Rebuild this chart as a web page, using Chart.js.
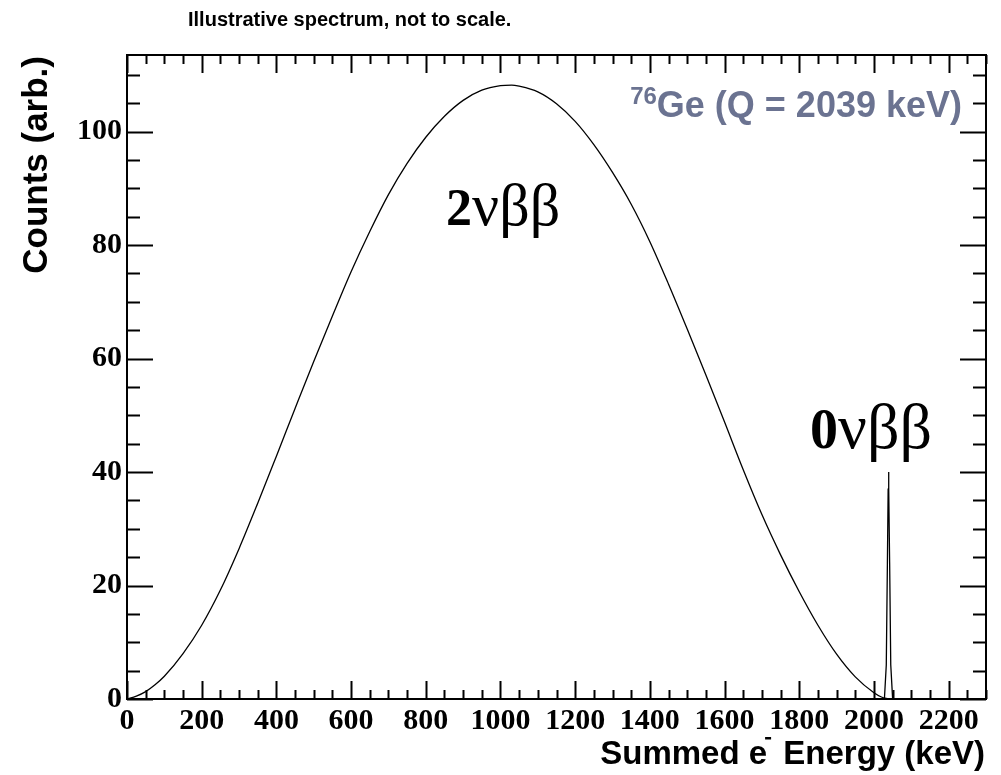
<!DOCTYPE html>
<html>
<head>
<meta charset="utf-8">
<script src="https://cdn.jsdelivr.net/npm/chart.js@4.4.1/dist/chart.umd.min.js"></script>
<style>
  html, body { margin: 0; padding: 0; background: #fff; }
  #wrap { width: 1001px; height: 775px; }
</style>
</head>
<body>
<div id="wrap"><canvas id="spectrum"></canvas></div>
<script>
// ===== DATA =====
const twoNuEnergy = [0, 25, 50, 75, 100, 150, 200, 250, 300, 350, 400, 450, 500, 550, 600, 650, 700, 750, 800, 850, 900, 950, 1000, 1030, 1050, 1100, 1150, 1200, 1250, 1300, 1350, 1400, 1450, 1500, 1550, 1600, 1650, 1700, 1750, 1800, 1850, 1900, 1950, 2000, 2020, 2039];
const twoNuCounts = [0, 0.5, 1.3, 2.5, 4.0, 8.0, 13.0, 19.2, 26.5, 34.5, 42.8, 51.2, 59.5, 67.5, 75.3, 82.4, 88.9, 94.4, 99.0, 102.7, 105.5, 107.3, 108.1, 108.2, 108.0, 107.0, 104.9, 101.8, 97.7, 92.8, 87.2, 80.6, 73.1, 65.2, 57.1, 48.8, 40.4, 32.5, 25.4, 18.9, 13.0, 7.9, 3.9, 1.1, 0.35, 0];

const zeroNuEnergy = [2028, 2033, 2036, 2038, 2039, 2040, 2042, 2045, 2050];
const zeroNuCounts = [0, 6, 24, 37, 40, 37, 24, 6, 0];

const xTickLabels = [0, 200, 400, 600, 800, 1000, 1200, 1400, 1600, 1800, 2000, 2200];
const yTickLabels = [0, 20, 40, 60, 80, 100];

const X_MAX = 2300;
const Y_MAX = 113.5;

const SANS = '"Liberation Sans", Arial, Helvetica, sans-serif';
const SERIF = '"Liberation Serif", "Times New Roman", Times, serif';

// ===== ROOT-style frame, inward ticks and text =====
const rootFramePlugin = {
  id: 'rootFrame',
  afterDraw(chart) {
    const ctx = chart.ctx;
    const { left, right, top, bottom } = chart.chartArea;
    const xs = chart.scales.x;
    const ys = chart.scales.y;

    ctx.save();
    ctx.strokeStyle = '#000';
    ctx.lineWidth = 2;
    ctx.strokeRect(left, top, right - left, bottom - top);

    ctx.beginPath();
    // x ticks, every 50 keV, major every 200
    for (let v = 0; v <= X_MAX; v += 50) {
      const px = Math.round(xs.getPixelForValue(v)) + 0.5;
      const len = v % 200 === 0 ? 18 : 9;
      ctx.moveTo(px, bottom); ctx.lineTo(px, bottom - len);
      ctx.moveTo(px, top); ctx.lineTo(px, top + len);
    }
    // y ticks, every 5, major every 20
    for (let v = 0; v <= Y_MAX; v += 5) {
      const py = Math.round(ys.getPixelForValue(v)) + 0.5;
      const len = v % 20 === 0 ? 26 : 13;
      ctx.moveTo(left, py); ctx.lineTo(left + len, py);
      ctx.moveTo(right, py); ctx.lineTo(right - len, py);
    }
    ctx.stroke();

    ctx.fillStyle = '#000';
    ctx.textBaseline = 'alphabetic';

    // caption above the frame
    ctx.font = 'bold 20px ' + SANS;
    ctx.textAlign = 'left';
    ctx.fillText('Illustrative spectrum, not to scale.', 188, 26);

    // isotope label, right aligned
    ctx.fillStyle = '#6b7391';
    ctx.font = 'bold 36px ' + SANS;
    ctx.textAlign = 'right';
    const main = 'Ge (Q = 2039 keV)';
    ctx.fillText(main, 962, 117);
    const mainW = ctx.measureText(main).width;
    ctx.font = 'bold 24px ' + SANS;
    ctx.fillText('76', 962 - mainW, 104);

    // peak labels
    ctx.fillStyle = '#000';
    drawNuLabel(ctx, '2', 446, 225, 52, 60);
    drawNuLabel(ctx, '0', 810, 448, 56, 64);

    // y axis title
    ctx.save();
    ctx.translate(37, 56);
    ctx.rotate(-Math.PI / 2);
    ctx.font = 'bold 35px ' + SANS;
    ctx.textAlign = 'right';
    ctx.textBaseline = 'middle';
    ctx.fillText('Counts (arb.)', 0, 0);
    ctx.restore();

    // x axis title: "Summed e⁻ Energy (keV)"
    ctx.font = 'bold 33px ' + SANS;
    ctx.textAlign = 'left';
    const tail = ' Energy (keV)';
    const head = 'Summed e';
    const tailW = ctx.measureText(tail).width;
    const headW = ctx.measureText(head).width;
    const supW = 7;
    const xEnd = 985;
    const baseY = 764;
    ctx.fillText(tail, xEnd - tailW, baseY);
    ctx.fillText(head, xEnd - tailW - supW - headW, baseY);
    ctx.fillRect(xEnd - tailW - supW - 2, baseY - 27, 6, 2.5);

    ctx.restore();
  }
};

function drawNuLabel(ctx, digit, x, y, digitSize, greekSize) {
  ctx.textAlign = 'left';
  ctx.font = 'bold ' + digitSize + 'px ' + SERIF;
  ctx.fillText(digit, x, y);
  const w = ctx.measureText(digit).width;
  ctx.font = greekSize + 'px ' + SERIF;
  ctx.fillText('νββ', x + w, y);
}

function toPoints(xs, ys) {
  return xs.map((x, i) => ({ x, y: ys[i] }));
}

const ctx = document.getElementById('spectrum').getContext('2d');

new Chart(ctx, {
  type: 'line',
  data: {
    datasets: [
      {
        label: '2nbb',
        data: toPoints(twoNuEnergy, twoNuCounts),
        borderColor: '#000',
        borderWidth: 1.3,
        pointRadius: 0,
        cubicInterpolationMode: 'monotone',
        fill: false
      },
      {
        label: '0nbb',
        data: toPoints(zeroNuEnergy, zeroNuCounts),
        borderColor: '#000',
        borderWidth: 1.3,
        pointRadius: 0,
        tension: 0,
        fill: false
      }
    ]
  },
  options: {
    responsive: true,
    maintainAspectRatio: false,
    animation: false,
    layout: { padding: { left: 0, right: 15, top: 55, bottom: 0 } },
    plugins: {
      legend: { display: false },
      tooltip: { enabled: false }
    },
    scales: {
      x: {
        type: 'linear',
        min: 0,
        max: X_MAX,
        grid: { display: false, drawTicks: false, tickLength: 0 },
        border: { display: false },
        afterBuildTicks: s => { s.ticks = xTickLabels.map(v => ({ value: v })); },
        afterFit: s => { s.height = 76; },
        ticks: {
          color: '#000',
          padding: 4,
          maxRotation: 0,
          autoSkip: false,
          callback: v => String(v),
          font: { family: SERIF, size: 30, weight: 'bold' }
        }
      },
      y: {
        min: 0,
        max: Y_MAX,
        grid: { display: false, drawTicks: false, tickLength: 0 },
        border: { display: false },
        afterBuildTicks: s => { s.ticks = yTickLabels.map(v => ({ value: v })); },
        afterFit: s => { s.width = 127; },
        ticks: {
          color: '#000',
          padding: 5,
          callback: v => String(v),
          font: { family: SERIF, size: 30, weight: 'bold' }
        }
      }
    }
  },
  plugins: [rootFramePlugin]
});
</script>
</body>
</html>
